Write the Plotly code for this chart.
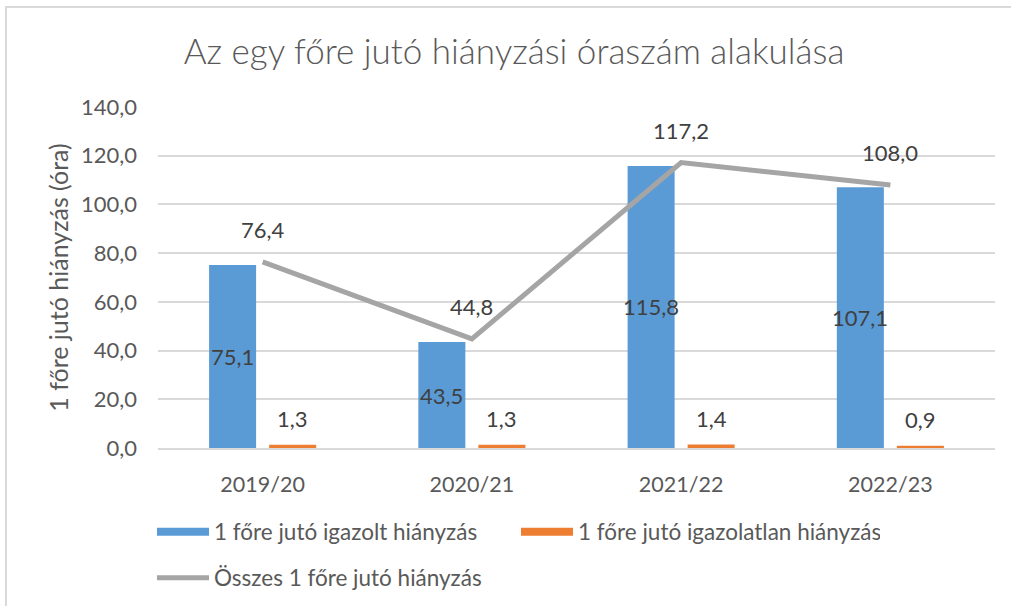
import plotly.graph_objects as go

categories = ["2019/20", "2020/21", "2021/22", "2022/23"]
igazolt = [75.1, 43.5, 115.8, 107.1]
igazolatlan = [1.3, 1.3, 1.4, 0.9]
osszes = [76.4, 44.8, 117.2, 108.0]

series_names = ["1 főre jutó igazolt hiányzás",
                "1 főre jutó igazolatlan hiányzás",
                "Összes 1 főre jutó hiányzás"]
y_ticks = [0, 20, 40, 60, 80, 100, 120, 140]
y_tick_labels = ["0,0", "20,0", "40,0", "60,0", "80,0", "100,0", "120,0", "140,0"]

BLUE = "#5B9BD5"
ORANGE = "#ED7D31"
GRAY = "#A5A5A5"
TXT = "#595959"
LBL = "#404040"
FONT = "Lato"


def fmt(v):
    return f"{v:.1f}".replace(".", ",")


fig = go.Figure()
fig.add_trace(go.Bar(x=categories, y=igazolt, name=series_names[0], showlegend=False,
                     legendgroup="a", marker=dict(color=BLUE, line=dict(width=0))))
fig.add_trace(go.Bar(x=categories, y=igazolatlan, name=series_names[1], showlegend=False,
                     legendgroup="b", marker=dict(color=ORANGE, line=dict(width=0))))
fig.add_trace(go.Scatter(x=categories, y=osszes, name=series_names[2], mode="lines",
                         legend="legend2", line=dict(color=GRAY, width=5)))
# legend swatches (Excel-style wide rectangles)
fig.add_trace(go.Scatter(x=[None], y=[None], name=series_names[0], mode="lines",
                         legendgroup="a", line=dict(color=BLUE, width=8)))
fig.add_trace(go.Scatter(x=[None], y=[None], name=series_names[1], mode="lines",
                         legendgroup="b", line=dict(color=ORANGE, width=8)))

annotations = []
for c, v in zip(categories, igazolt):
    annotations.append(dict(x=c, y=v / 2, xref="x", yref="y", text=fmt(v), showarrow=False,
                            xshift=-30, font=dict(family=FONT, size=22, color=LBL)))
for c, v in zip(categories, igazolatlan):
    annotations.append(dict(x=c, y=v, xref="x", yref="y", text=fmt(v), showarrow=False,
                            xshift=30, yshift=26, font=dict(family=FONT, size=22, color=LBL)))
for c, v in zip(categories, osszes):
    annotations.append(dict(x=c, y=v, xref="x", yref="y", text=fmt(v), showarrow=False,
                            yshift=32, font=dict(family=FONT, size=22, color=LBL)))

legend_common = dict(orientation="h", xref="container", yref="container",
                     xanchor="left", yanchor="middle",
                     font=dict(family=FONT, size=22.5, color=TXT),
                     itemwidth=52, traceorder="normal", bgcolor="rgba(0,0,0,0)")

fig.update_layout(
    width=1011, height=606,
    margin=dict(l=158, r=16, t=107, b=158, autoexpand=False),
    paper_bgcolor="white", plot_bgcolor="white",
    font=dict(family=FONT, color=TXT),
    title=dict(text="Az egy főre jutó hiányzási óraszám alakulása",
               x=514 / 1011, xref="container", xanchor="center",
               y=1 - 52 / 606, yref="container", yanchor="middle",
               font=dict(family=FONT, size=35, color=TXT, weight=300)),
    barmode="group", bargap=0.426, bargroupgap=0.217,
    showlegend=True,
    legend=dict(x=152 / 1011, y=1 - 532 / 606, entrywidth=297, **legend_common),
    legend2=dict(x=152 / 1011, y=1 - 578 / 606, **legend_common),
    annotations=annotations,
    shapes=[dict(type="rect", xref="paper", yref="paper",
                 x0=(6 - 158) / 837, x1=(1020 - 158) / 837,
                 y0=(448 - 620) / 341, y1=(448 - 7) / 341,
                 line=dict(color="#D9D9D9", width=2), fillcolor="rgba(0,0,0,0)",
                 layer="below")],
)
fig.update_yaxes(range=[0, 140], tickvals=y_ticks, ticktext=y_tick_labels,
                 showgrid=True, gridcolor="#D9D9D9", gridwidth=1.5,
                 zeroline=False, showline=False, ticks="",
                 ticklabelstandoff=20,
                 tickfont=dict(family=FONT, size=22, color=TXT),
                 title=dict(text="1 főre jutó hiányzás (óra)", standoff=5,
                            font=dict(family=FONT, size=25, color=TXT)))
fig.update_xaxes(showgrid=False, showline=True, linecolor="#D9D9D9", linewidth=1.5,
                 ticks="", ticklabelstandoff=16,
                 tickfont=dict(family=FONT, size=21.5, color=TXT))

fig.write_html("out.html", config={"displayModeBar": False},
               post_script="document.body.style.margin='0';")
